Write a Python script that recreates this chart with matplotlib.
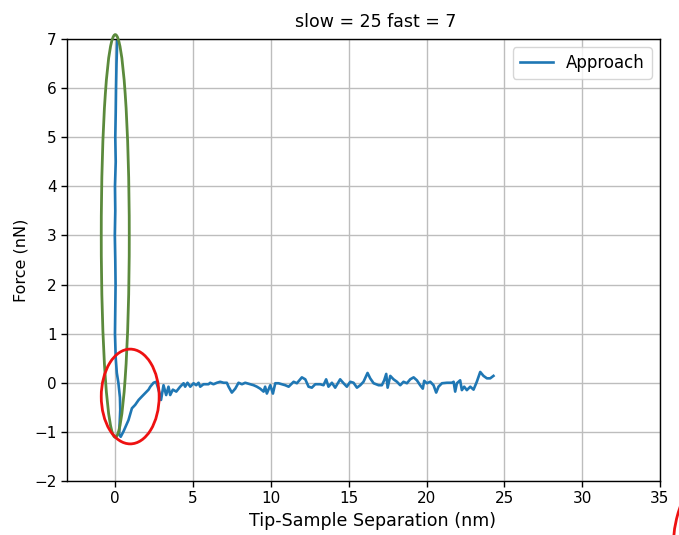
import numpy as np
import matplotlib
matplotlib.use('Agg')
import matplotlib.pyplot as plt
from matplotlib.patches import Ellipse

# approach curve (nm, nN)
separation = [0.13, 0.08, 0.05, 0.03, 0.00, 0.03, -0.02, 0.00, -0.03, 0.00,
              0.02, 0.00, -0.02, 0.03, 0.10, 0.20, 0.30, 0.32, 0.25, 0.35,
              0.53, 0.85, 1.07, 1.28, 1.50, 1.71, 1.93, 2.14, 2.25, 2.46,
              2.63, 2.78, 2.94, 3.10, 3.27, 3.42, 3.53, 3.70, 3.92, 4.17,
              4.39, 4.49, 4.64, 4.82, 5.03, 5.20, 5.35, 5.46, 5.67, 5.99,
              6.10, 6.31, 6.53, 6.74, 6.96, 7.17, 7.28, 7.49, 7.71, 7.92,
              8.14, 8.35, 8.67, 8.89, 9.10, 9.31, 9.53, 9.63, 9.74, 9.96,
              10.13, 10.28, 10.49, 10.92, 11.14, 11.46, 11.67, 11.99, 12.21, 12.42,
              12.63, 12.85, 13.17, 13.38, 13.55, 13.70, 13.92, 14.13, 14.45, 14.67,
              14.88, 15.10, 15.31, 15.53, 15.74, 15.95, 16.21, 16.38, 16.60, 16.92,
              17.13, 17.28, 17.41, 17.50, 17.67, 17.88, 18.10, 18.31, 18.52, 18.74,
              18.95, 19.17, 19.38, 19.59, 19.76, 19.85, 20.02, 20.24, 20.45, 20.62,
              20.77, 20.99, 21.31, 21.63, 21.74, 21.84, 21.95, 22.16, 22.27, 22.42,
              22.59, 22.81, 23.02, 23.23, 23.45, 23.66, 23.88, 24.09, 24.30]
force = [7.00, 6.50, 6.00, 5.50, 5.00, 4.50, 4.00, 3.50, 3.00, 2.50,
         2.00, 1.50, 1.00, 0.50, 0.20, 0.00, -0.30, -0.55, -1.05, -1.10,
         -0.99, -0.76, -0.52, -0.45, -0.35, -0.28, -0.21, -0.14, -0.08, 0.00,
         0.02, -0.14, -0.35, -0.05, -0.25, -0.08, -0.25, -0.14, -0.18, -0.08,
         -0.01, -0.08, 0.00, -0.08, -0.01, -0.05, 0.00, -0.08, -0.03, -0.03,
         0.00, -0.03, 0.00, 0.02, 0.00, 0.00, -0.08, -0.20, -0.12, 0.00,
         -0.03, 0.00, -0.03, -0.05, -0.08, -0.12, -0.18, -0.08, -0.22, -0.05,
         -0.22, -0.01, -0.01, -0.05, -0.08, 0.02, -0.01, 0.11, 0.07, -0.08,
         -0.10, -0.03, -0.03, -0.05, 0.07, -0.08, 0.00, -0.10, 0.07, -0.01,
         -0.08, 0.02, 0.00, -0.10, -0.05, 0.02, 0.20, 0.09, -0.01, -0.05,
         -0.05, 0.05, 0.18, -0.10, 0.14, 0.07, 0.02, -0.05, 0.02, -0.01,
         0.07, 0.11, 0.05, -0.05, -0.12, 0.04, -0.01, 0.02, -0.05, -0.20,
         -0.08, -0.01, 0.00, 0.00, 0.02, -0.18, -0.01, 0.05, -0.15, -0.08,
         -0.15, -0.08, -0.14, 0.02, 0.22, 0.14, 0.09, 0.09, 0.14]

fig = plt.figure(figsize=(6.79, 5.35), dpi=100)
ax = fig.add_axes([0.0987, 0.101, 0.8733, 0.826])

ax.plot(separation, force, color='#1f77b4', lw=1.9, label='Approach')
ax.set_xlim(-3.1, 35)
ax.set_ylim(-2, 7)
ax.set_xticks(np.arange(0, 36, 5))
ax.set_yticks(np.arange(-2, 8, 1))
ax.tick_params(labelsize=11, width=1, length=4)
for s in ax.spines.values():
    s.set_linewidth(1.0)
ax.grid(True, color='#bdbdbd', lw=1.0)
ax.set_xlabel('Tip-Sample Separation (nm)', fontsize=12.6, x=0.515)
ax.set_ylabel('Force (nN)', fontsize=11.5)
ax.set_title('slow = 25 fast = 7', fontsize=12.5, x=0.521, pad=9)
ax.legend(loc='upper right', fontsize=12)

# hand-drawn highlight marks
ax.add_patch(Ellipse((0.0, 2.99), 1.8, 8.2, fill=False, edgecolor='#5b8a3c',
                     lw=2, clip_on=False, zorder=5))
ax.add_patch(Ellipse((0.96, -0.28), 3.72, 1.93, fill=False, edgecolor='#ee1111',
                     lw=2, clip_on=False, zorder=5))
fig.patches.append(Ellipse((1.0457, -0.028), 0.109, 0.273, fill=False,
                           edgecolor='#ee1111', lw=2, transform=fig.transFigure,
                           figure=fig))

fig.savefig('out.png', dpi=100)
